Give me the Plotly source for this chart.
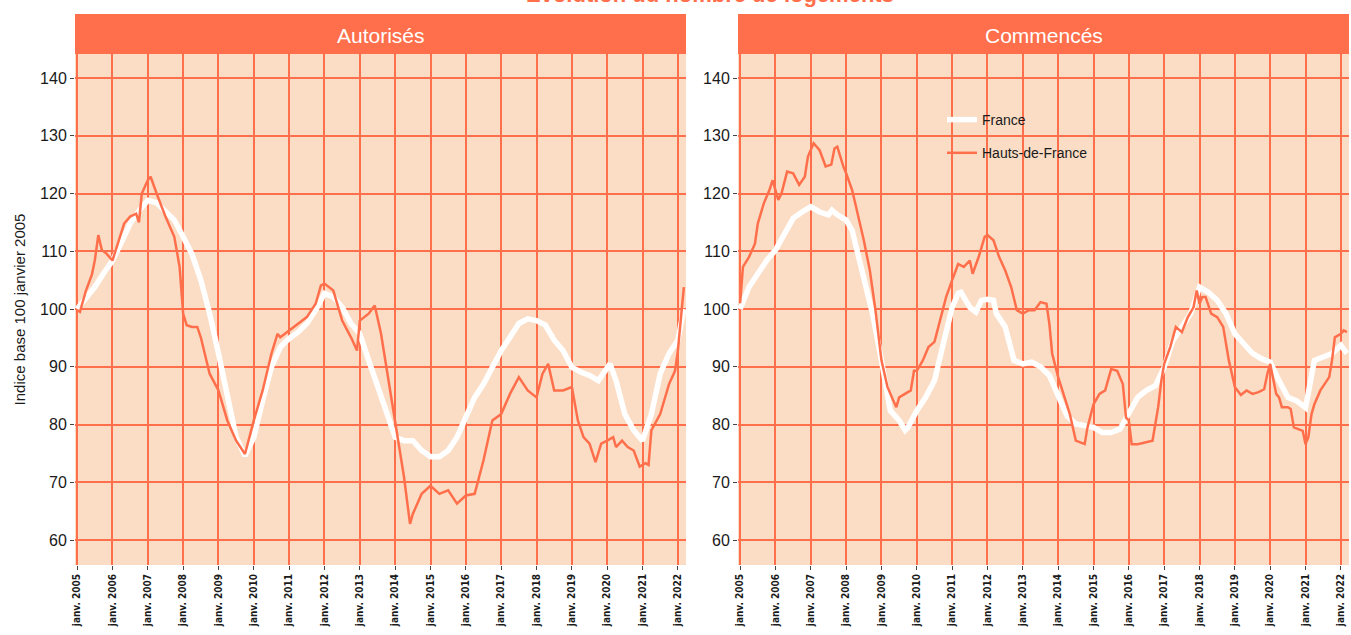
import plotly.graph_objects as go

# ---------------- data ----------------
years = list(range(2005, 2023))
tick_labels = [f"janv. {y}" for y in years]
y_ticks = [60, 70, 80, 90, 100, 110, 120, 130, 140]

panels = ["Autorisés", "Commencés"]
series_names = ["France", "Hauts-de-France"]

aut_fr_t = [2005.0, 2005.25, 2005.5, 2005.75, 2006.0, 2006.25, 2006.5, 2006.75, 2007.0, 2007.25, 2007.5,
            2007.75, 2008.0, 2008.25, 2008.5, 2008.75, 2009.0, 2009.25, 2009.5, 2009.75, 2010.0, 2010.25,
            2010.5, 2010.75, 2011.0, 2011.25, 2011.5, 2011.75, 2012.0, 2012.25, 2012.5, 2012.75, 2013.0,
            2013.25, 2013.5, 2013.75, 2014.0, 2014.25, 2014.5, 2014.75, 2015.0, 2015.25, 2015.5, 2015.75,
            2016.0, 2016.25, 2016.5, 2016.75, 2017.0, 2017.25, 2017.5, 2017.75, 2018.0, 2018.25, 2018.5,
            2018.75, 2019.0, 2019.25, 2019.5, 2019.75, 2020.0, 2020.08, 2020.25, 2020.5, 2020.75, 2021.0,
            2021.25, 2021.5, 2021.75, 2022.0, 2022.17]
aut_fr = [100, 101.8, 103.8, 106.2, 108.4, 111.5, 114.8, 117.0, 118.8, 118.4, 117.0,
          115.4, 112.5, 109.5, 105.0, 99.2, 92.3, 84.7, 77.8, 74.6, 77.8, 84.2,
          90.0, 93.4, 94.9, 96.0, 97.5, 99.8, 102.7, 102.1, 100.3, 97.5, 95.7,
          91.1, 86.5, 82.4, 77.8, 77.2, 77.2, 75.5, 74.4, 74.4, 75.5, 77.8,
          81.3, 84.7, 87.0, 89.9, 92.8, 95.1, 97.5, 98.3, 98.0, 97.2, 94.6,
          92.8, 89.9, 89.1, 88.5, 87.6, 89.9, 90.5, 87.6, 81.8, 79.0, 77.2,
          81.8, 88.8, 92.3, 94.6, 100.0]

aut_hdf_t = [2005.0, 2005.08, 2005.25, 2005.42, 2005.5, 2005.6, 2005.7, 2005.83, 2006.0, 2006.17, 2006.33,
             2006.5, 2006.67, 2006.75, 2006.83, 2007.0, 2007.08, 2007.25, 2007.5, 2007.75, 2007.9, 2008.0,
             2008.1, 2008.25, 2008.4, 2008.5, 2008.75, 2009.0, 2009.25, 2009.5, 2009.75, 2010.0, 2010.25,
             2010.5, 2010.67, 2010.75, 2011.0, 2011.25, 2011.5, 2011.75, 2011.9, 2012.0, 2012.25, 2012.5,
             2012.75, 2012.92, 2013.0, 2013.25, 2013.42, 2013.5, 2013.6, 2013.75, 2014.0, 2014.25, 2014.42,
             2014.5, 2014.75, 2015.0, 2015.25, 2015.5, 2015.75, 2016.0, 2016.25, 2016.5, 2016.75, 2017.0,
             2017.25, 2017.5, 2017.75, 2018.0, 2018.17, 2018.33, 2018.5, 2018.75, 2019.0, 2019.17, 2019.33,
             2019.5, 2019.67, 2019.83, 2020.0, 2020.17, 2020.25, 2020.42, 2020.58, 2020.75, 2020.92, 2021.08,
             2021.17, 2021.25, 2021.5, 2021.75, 2021.92, 2022.0, 2022.08, 2022.17]
aut_hdf = [99.8, 99.5, 103.2, 106.0, 108.4, 112.8, 110.2, 109.6, 108.4, 111.9, 114.8,
           116.0, 116.5, 115.0, 120.0, 122.3, 122.9, 120.0, 116.0, 112.5, 107.3, 99.2,
           97.2, 96.9, 96.9, 95.1, 88.8, 85.9, 80.7, 77.2, 74.9, 80.7, 85.9,
           92.3, 95.7, 95.1, 96.3, 97.5, 98.6, 100.9, 104.1, 104.4, 103.2, 98.0,
           95.1, 92.8, 98.0, 99.2, 100.6, 98.5, 95.7, 90.0, 80.7, 70.9, 62.8,
           64.5, 68.0, 69.4, 68.0, 68.6, 66.3, 67.7, 68.0, 73.8, 80.7, 81.8,
           85.3, 88.2, 85.9, 84.7, 88.8, 90.5, 85.9, 85.9, 86.5, 80.7, 77.8,
           76.7, 73.5, 76.7, 77.2, 77.8, 76.1, 77.2, 76.1, 75.5, 72.7, 73.3,
           73.0, 79.0, 81.8, 87.0, 89.3, 92.8, 98.0, 103.8]

com_fr_t = [2005.0, 2005.25, 2005.5, 2005.75, 2006.0, 2006.25, 2006.5, 2006.75, 2007.0, 2007.25, 2007.5,
            2007.6, 2007.75, 2008.0, 2008.17, 2008.33, 2008.5, 2008.75, 2009.0, 2009.25, 2009.5, 2009.67,
            2009.75, 2010.0, 2010.25, 2010.5, 2010.75, 2011.0, 2011.17, 2011.25, 2011.5, 2011.67, 2011.83,
            2012.0, 2012.17, 2012.25, 2012.5, 2012.67, 2012.75, 2013.0, 2013.25, 2013.5, 2013.75, 2014.0,
            2014.25, 2014.5, 2014.75, 2015.0, 2015.25, 2015.5, 2015.75, 2016.0, 2016.25, 2016.5, 2016.75,
            2017.0, 2017.25, 2017.5, 2017.75, 2018.0, 2018.25, 2018.5, 2018.75, 2019.0, 2019.25, 2019.5,
            2019.75, 2020.0, 2020.25, 2020.5, 2020.75, 2021.0, 2021.25, 2021.5, 2021.75, 2022.0, 2022.17]
com_fr = [100, 103.8, 106.1, 108.4, 110.2, 113.1, 115.7, 116.8, 117.7, 116.8, 116.3,
          117.1, 116.3, 115.4, 113.6, 109.6, 105.5, 99.1, 91.1, 82.4, 80.7, 79.0,
          79.5, 82.4, 84.7, 87.6, 94.0, 100.3, 102.7, 102.9, 100.3, 99.5, 101.5,
          101.7, 101.5, 99.2, 96.9, 93.4, 91.1, 90.5, 90.8, 90.0, 88.5, 85.0,
          81.5, 80.1, 79.8, 79.5, 78.6, 78.6, 79.2, 81.8, 84.7, 85.9, 86.7,
          89.9, 94.6, 96.9, 99.2, 103.8, 102.9, 101.5, 99.2, 95.7, 94.0, 92.3,
          91.4, 90.8, 87.6, 84.7, 84.1, 82.9, 91.1, 91.7, 92.3, 93.7, 92.3]

com_hdf_t = [2005.0, 2005.08, 2005.25, 2005.42, 2005.5, 2005.67, 2005.83, 2005.92, 2006.0, 2006.08, 2006.17,
             2006.33, 2006.5, 2006.67, 2006.83, 2006.92, 2007.08, 2007.25, 2007.42, 2007.58, 2007.67, 2007.75,
             2007.92, 2008.0, 2008.17, 2008.33, 2008.5, 2008.67, 2008.83, 2009.0, 2009.17, 2009.33, 2009.42,
             2009.5, 2009.67, 2009.83, 2009.92, 2010.0, 2010.17, 2010.33, 2010.5, 2010.67, 2010.83, 2011.0,
             2011.17, 2011.33, 2011.5, 2011.58, 2011.75, 2011.92, 2012.0, 2012.17, 2012.33, 2012.5, 2012.67,
             2012.83, 2013.0, 2013.17, 2013.33, 2013.5, 2013.67, 2013.75, 2013.83, 2014.0, 2014.17, 2014.33,
             2014.5, 2014.75, 2014.83, 2015.0, 2015.17, 2015.33, 2015.5, 2015.67, 2015.83, 2015.92, 2016.0,
             2016.08, 2016.25, 2016.5, 2016.67, 2016.75, 2016.83, 2016.92, 2017.0, 2017.17, 2017.33, 2017.5,
             2017.67, 2017.83, 2017.92, 2018.0, 2018.08, 2018.17, 2018.33, 2018.5, 2018.67, 2018.83, 2019.0,
             2019.17, 2019.33, 2019.5, 2019.67, 2019.83, 2019.92, 2020.0, 2020.08, 2020.17, 2020.25, 2020.33,
             2020.5, 2020.58, 2020.67, 2020.83, 2020.92, 2021.0, 2021.08, 2021.17, 2021.25, 2021.42, 2021.5,
             2021.67, 2021.75, 2021.83, 2022.0, 2022.08, 2022.17]
com_hdf = [101.0, 107.3, 109.0, 111.3, 114.8, 118.3, 120.6, 122.3, 120.6, 118.9, 120.0,
           123.8, 123.5, 121.5, 122.9, 126.4, 128.7, 127.5, 124.7, 125.0, 127.8, 128.1,
           124.7, 123.5, 120.6, 116.5, 111.9, 106.7, 99.8, 91.1, 86.5, 84.2, 83.0,
           84.7, 85.3, 85.9, 89.3, 89.3, 91.1, 93.4, 94.3, 98.6, 102.1, 105.0,
           107.8, 107.3, 108.4, 106.1, 109.0, 112.5, 112.8, 111.9, 109.0, 106.7, 103.8,
           99.8, 99.2, 99.8, 99.8, 101.2, 100.9, 97.5, 92.3, 88.2, 84.7, 81.8,
           77.2, 76.6, 79.5, 83.5, 85.3, 85.9, 89.6, 89.3, 87.0, 81.2, 80.7,
           76.6, 76.6, 76.9, 77.2, 80.1, 83.0, 87.6, 90.5, 93.4, 96.9, 96.0,
           98.6, 100.3, 103.2, 100.9, 102.1, 102.1, 99.2, 98.6, 96.9, 91.1, 86.5,
           85.1, 85.9, 85.3, 85.6, 86.1, 88.8, 90.5, 88.2, 85.3, 84.7, 83.0,
           83.0, 82.7, 79.5, 79.2, 78.9, 76.6, 77.8, 81.8, 83.5, 85.9, 86.7,
           88.2, 91.1, 95.1, 95.7, 96.3, 96.0]

# ---------------- styling ----------------
ORANGE = "#FF6F4B"
BG = "#FBDDC5"
TXT = "#1a1a1a"
FONT = "Liberation Sans, Arial, sans-serif"

W, H = 1351, 635
# screen-pixel layout of the reference
PLOT_L, PLOT_R, PLOT_T, PLOT_B = 75, 1349, 54, 565
ML = PLOT_L
MR = W - PLOT_R
MT = PLOT_T
MB = H - PLOT_B
PH = PLOT_B - PLOT_T
PW = PLOT_R - PLOT_L

def py(px):
    """screen pixel row -> paper y"""
    return (PLOT_B - px) / PH

def px_(x):
    """screen pixel column -> paper x"""
    return (x - PLOT_L) / PW

fig = go.Figure()

data = [
    (aut_fr_t, aut_fr, aut_hdf_t, aut_hdf),
    (com_fr_t, com_fr, com_hdf_t, com_hdf),
]
for i, (ft, fv, ht, hv) in enumerate(data):
    xa = "x" if i == 0 else "x2"
    ya = "y" if i == 0 else "y2"
    fig.add_trace(go.Scatter(x=ft, y=fv, mode="lines", name=series_names[0],
                             line=dict(color="white", width=5.5),
                             xaxis=xa, yaxis=ya, showlegend=(i == 1),
                             legendgroup="g1"))
    fig.add_trace(go.Scatter(x=ht, y=hv, mode="lines", name=series_names[1],
                             line=dict(color=ORANGE, width=2.5),
                             xaxis=xa, yaxis=ya, showlegend=(i == 1),
                             legendgroup="g2"))

d1 = [0, px_(686)]
d2 = [px_(738), 1.0]

xcommon = dict(range=[2004.94, 2022.23], tickvals=years, ticktext=tick_labels,
               tickangle=-90, showgrid=True, gridcolor=ORANGE, gridwidth=2,
               zeroline=False, ticks="outside", ticklen=4, tickcolor="#444",
               tickfont=dict(family="Liberation Sans Narrow, DejaVu Sans Condensed, Arial Narrow, sans-serif",
                             size=10, color=TXT, weight="bold"),
               showline=False, fixedrange=True)
ycommon = dict(range=[55.67, 144.16], tickvals=y_ticks, showgrid=True, gridcolor=ORANGE,
               gridwidth=2, zeroline=False, ticks="outside", ticklen=4, tickcolor="#444",
               tickfont=dict(family=FONT, size=16, color=TXT), showline=False)

fig.update_layout(
    width=W, height=H,
    margin=dict(l=ML, r=MR, t=MT, b=MB),
    paper_bgcolor="white", plot_bgcolor=BG,
    font=dict(family=FONT, color=TXT),
    xaxis=dict(domain=d1, anchor="y", **xcommon),
    xaxis2=dict(domain=d2, anchor="y2", **xcommon),
    yaxis=dict(anchor="x", title=dict(text="Indice base 100 janvier 2005",
                                      font=dict(family=FONT, size=15, color=TXT), standoff=10),
               **ycommon),
    yaxis2=dict(anchor="x2", **ycommon),
    legend=dict(x=px_(942), y=py(104), xanchor="left", yanchor="top",
                bgcolor="rgba(0,0,0,0)", font=dict(family=FONT, size=14, color=TXT),
                traceorder="grouped", tracegroupgap=12),
    showlegend=True,
)

# facet strips
for i, xr in enumerate(["x domain", "x2 domain"]):
    fig.add_shape(type="rect", xref=xr, yref="paper", x0=0, x1=1,
                  y0=1.0, y1=py(14), fillcolor=ORANGE, line=dict(width=0), layer="above")
    fig.add_annotation(xref=xr, yref="paper", x=0.5, y=py(36), text=panels[i],
                       showarrow=False, font=dict(family=FONT, size=21, color="white"),
                       xanchor="center", yanchor="middle")

# title (partially cut at the top, as in the reference)
fig.add_annotation(xref="paper", yref="paper", x=px_(710), y=py(-6), yanchor="middle",
                   text="<b>Evolution du nombre de logements</b>", showarrow=False,
                   font=dict(family=FONT, size=22, color=ORANGE))

fig.write_html("out.html", config={"displayModeBar": False},
               post_script="document.body.style.margin='0px';")
